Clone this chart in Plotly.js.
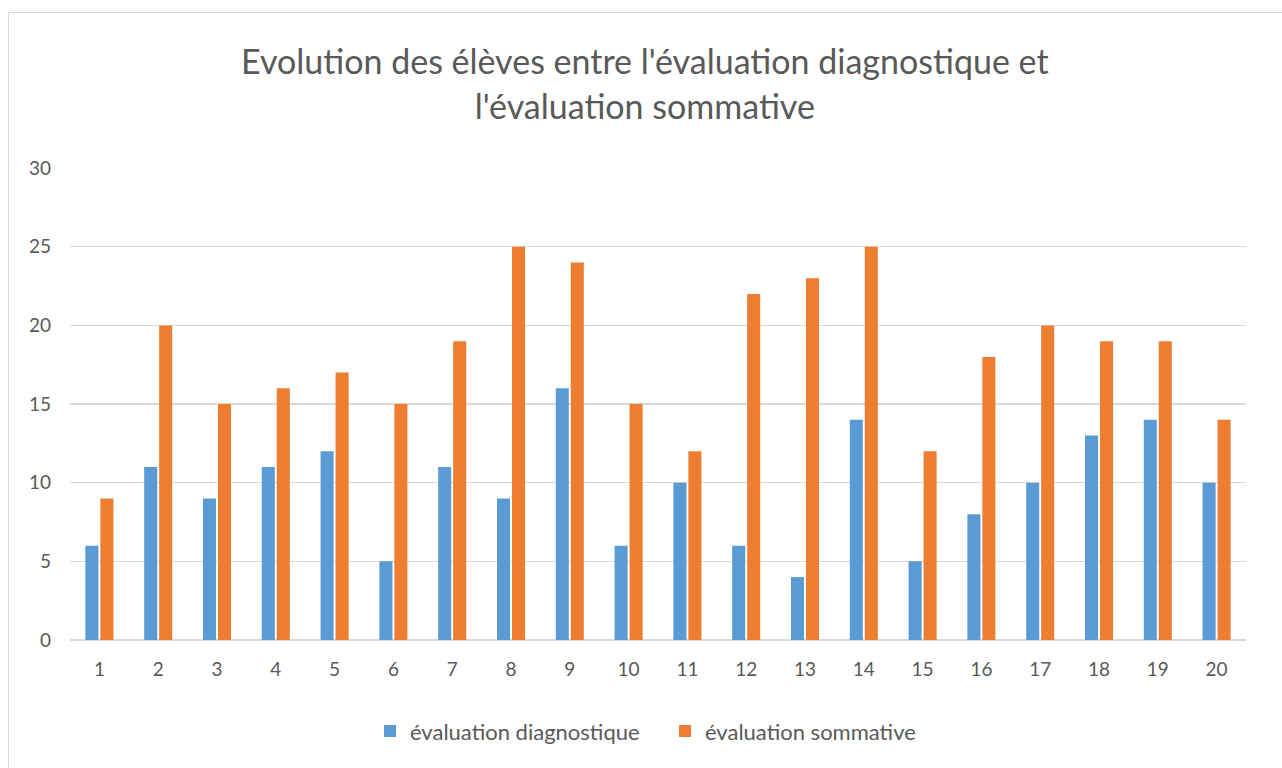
<!DOCTYPE html>
<html>
<head>
<meta charset="utf-8">
<script src="https://cdn.plot.ly/plotly-3.0.1.min.js"></script>
<style>
  html, body { margin: 0; padding: 0; background: #fff; }
  #frame { position: absolute; left: 8px; top: 12px; width: 1290px; height: 780px; border: 1px solid #d9d9d9; box-sizing: border-box; }
  #chart { position: absolute; left: 0; top: 0; width: 1282px; height: 768px; }
</style>
</head>
<body>
<div id="frame"></div>
<div id="chart"></div>
<script>
const categories = ["1","2","3","4","5","6","7","8","9","10","11","12","13","14","15","16","17","18","19","20"];
const diagnostique = [6, 11, 9, 11, 12, 5, 11, 9, 16, 6, 10, 6, 4, 14, 5, 8, 10, 13, 14, 10];
const sommative = [9, 20, 15, 16, 17, 15, 19, 25, 24, 15, 12, 22, 23, 25, 12, 18, 20, 19, 19, 14];
const yTicks = [0, 5, 10, 15, 20, 25, 30];

const font = "Lato, 'Open Sans', sans-serif";
const grey = "#595959";

const data = [
  { type: "bar", name: "évaluation diagnostique", x: categories, y: diagnostique, marker: { color: "#5B9BD5" }, legend: "legend" },
  { type: "bar", name: "évaluation sommative", x: categories, y: sommative, marker: { color: "#ED7D31" }, legend: "legend2" }
];

const legendBase = {
  orientation: "h", xref: "container", xanchor: "left",
  y: 0.048, yref: "container", yanchor: "middle",
  font: { family: font, size: 22, color: grey },
  itemwidth: 30, bgcolor: "rgba(0,0,0,0)"
};

const layout = {
  width: 1282, height: 768,
  paper_bgcolor: "rgba(0,0,0,0)", plot_bgcolor: "rgba(0,0,0,0)",
  margin: { l: 70, r: 36, t: 168, b: 128 },
  barmode: "group", bargap: 0.49, bargroupgap: 0.13,
  title: {
    text: "Evolution des élèves entre l'évaluation diagnostique et<br>l'évaluation sommative",
    font: { family: font, size: 34, color: grey },
    x: 0.503, xref: "container", xanchor: "center",
    y: 0.903, yref: "container", yanchor: "middle"
  },
  xaxis: {
    type: "category", showgrid: false, zeroline: false,
    showline: false, ticks: "", ticklabelstandoff: 16,
    tickfont: { family: font, size: 19, color: grey }
  },
  yaxis: {
    range: [0, 30.01], tickvals: yTicks, ticktext: yTicks.map(String),
    showgrid: true, gridcolor: "#d9d9d9", gridwidth: 1.3,
    zeroline: true, zerolinecolor: "#d9d9d9", zerolinewidth: 1.3,
    showline: false, ticks: "", ticklabelstandoff: 18,
    tickfont: { family: font, size: 19, color: grey }
  },
  showlegend: true,
  legend: Object.assign({}, legendBase, { x: 370 / 1282 }),
  legend2: Object.assign({}, legendBase, { x: 665 / 1282 })
};

Plotly.newPlot("chart", data, layout, { displayModeBar: false, staticPlot: true });
</script>
</body>
</html>
